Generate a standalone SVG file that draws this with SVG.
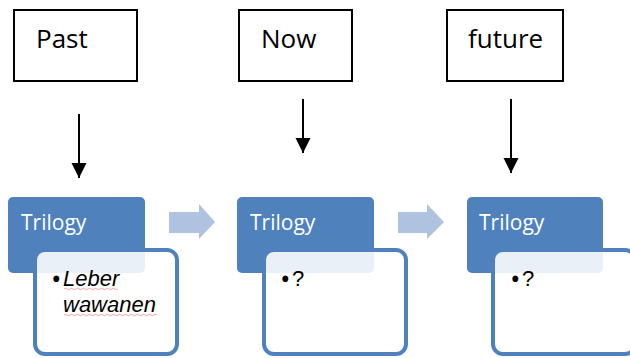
<svg xmlns="http://www.w3.org/2000/svg" width="630" height="358" viewBox="0 0 630 358">
  <defs>
    <style>
      .label-box { fill: #ffffff; stroke: #000000; stroke-width: 2; }
      .label { font-family: "Open Sans", "Liberation Sans", sans-serif; font-size: 26px; fill: #000000; }
      .header { fill: #4F81BD; }
      .header-text { font-family: "Open Sans", "Liberation Sans", sans-serif; font-size: 21px; fill: #ffffff; }
      .card { fill: #ffffff; fill-opacity: 0.88; stroke: #4F81BD; stroke-width: 4; }
      .item { font-family: "Liberation Sans", "Open Sans", sans-serif; font-size: 22px; fill: #000000; }
      .bullet { font-family: "Open Sans", "Liberation Sans", sans-serif; font-size: 28px; fill: #000000; }
      .step { fill: #AFC2DF; }
      .down { stroke: #000000; stroke-width: 2; fill: none; }
      .squiggle { fill: none; stroke: #F2A0A0; stroke-width: 1; }
    </style>
    <marker id="head" markerUnits="userSpaceOnUse" markerWidth="16" markerHeight="17" refX="15" refY="7.5" orient="auto">
      <path d="M0,0 L15,7.5 L0,15 Z" fill="#000000"/>
    </marker>
  </defs>

  <!-- time labels -->
  <g id="past">
    <rect class="label-box" x="14" y="10" width="123" height="71"/>
    <text class="label" x="36" y="48">Past</text>
  </g>
  <g id="now">
    <rect class="label-box" x="239" y="10" width="113" height="71"/>
    <text class="label" x="261" y="48">Now</text>
  </g>
  <g id="future">
    <rect class="label-box" x="447" y="10" width="116" height="71"/>
    <text class="label" x="468" y="48">future</text>
  </g>

  <!-- trilogy cards -->
  <g id="trilogy-1">
    <rect class="header" x="8" y="197" width="137" height="76" rx="5"/>
    <text class="header-text" x="21" y="230">Trilogy</text>
    <rect class="card" x="35" y="250" width="142" height="104" rx="10"/>
    <text class="bullet" x="51" y="289">•</text>
    <text class="item" x="63" y="286" font-style="italic">Leber</text>
    <text class="item" x="63" y="312" font-style="italic">wawanen</text>
    <path class="squiggle" d="M64,289 q1.5,-1.5 3,0 t3,0 t3,0 t3,0 t3,0 t3,0 t3,0 t3,0 t3,0 t3,0 t3,0 t3,0 t3,0 t3,0 t3,0 t3,0 t3,0 t3,0"/>
    <path class="squiggle" d="M64,315 q1.5,-1.5 3,0 t3,0 t3,0 t3,0 t3,0 t3,0 t3,0 t3,0 t3,0 t3,0 t3,0 t3,0 t3,0 t3,0 t3,0 t3,0 t3,0 t3,0 t3,0 t3,0 t3,0 t3,0 t3,0 t3,0 t3,0 t3,0 t3,0 t3,0 t3,0 t3,0 t3,0"/>
  </g>
  <g id="trilogy-2">
    <rect class="header" x="237" y="197" width="137" height="76" rx="5"/>
    <text class="header-text" x="250" y="230">Trilogy</text>
    <rect class="card" x="264" y="250" width="142" height="104" rx="10"/>
    <text class="bullet" x="280" y="289">•</text>
    <text class="item" x="292" y="286">?</text>
  </g>
  <g id="trilogy-3">
    <rect class="header" x="467" y="197" width="136" height="76" rx="5"/>
    <text class="header-text" x="479" y="230">Trilogy</text>
    <rect class="card" x="493" y="250" width="142" height="104" rx="10"/>
    <text class="bullet" x="510" y="289">•</text>
    <text class="item" x="522" y="286">?</text>
  </g>

  <!-- connectors -->
  <g id="connectors">
    <line class="down" x1="79" y1="114" x2="79" y2="178" marker-end="url(#head)"/>
    <line class="down" x1="303" y1="99" x2="303" y2="153" marker-end="url(#head)"/>
    <line class="down" x1="511" y1="99" x2="511" y2="173" marker-end="url(#head)"/>
    <path class="step" d="M169,212 H199 V204 L215,222 L199,239 V233 H169 Z"/>
    <path class="step" d="M398,212 H427 V204 L444,222 L427,239 V233 H398 Z"/>
  </g>
</svg>
